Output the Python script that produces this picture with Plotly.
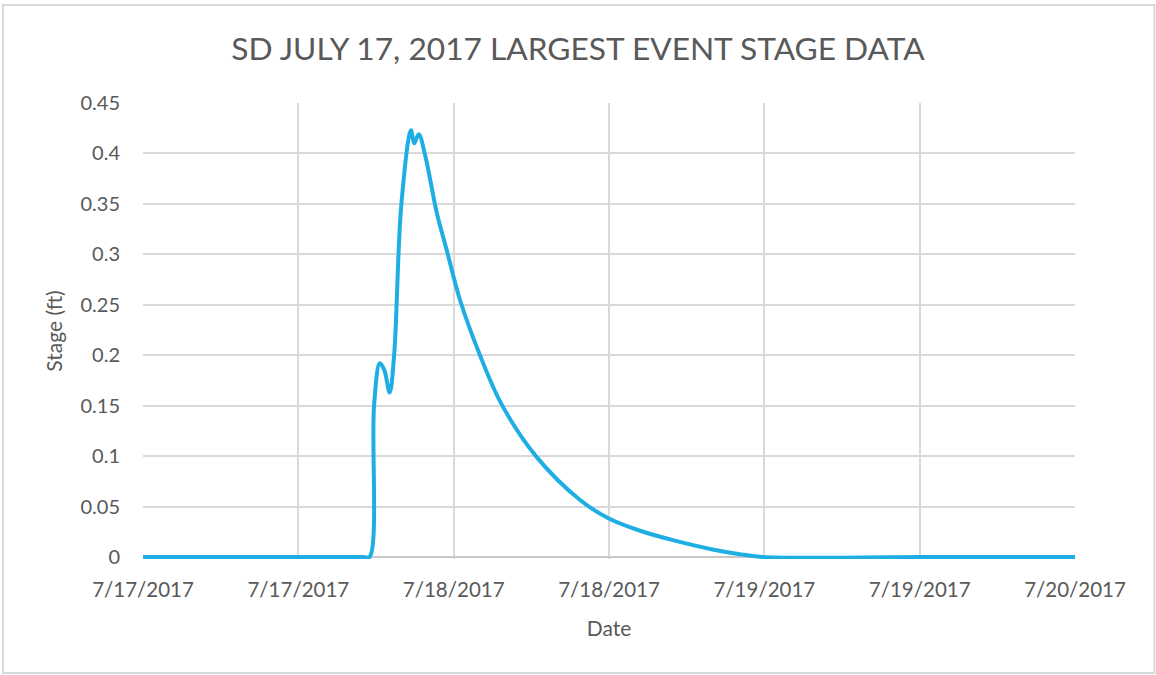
import plotly.graph_objects as go

# hours after 7/17/2017 00:00
horas = [0, 17.0, 17.5, 17.85, 18.3, 18.65, 19.05, 19.4, 19.95, 20.7, 20.95, 21.3, 21.8,
         22.7, 23.46, 24.49, 26.03, 27.71, 30.42, 33.76, 35.95, 38.4, 41.0, 44.0,
         46.0, 47.8, 60.0, 72.0]
stage_ft = [0, 0, 0, 0.15, 0.192, 0.185, 0.163, 0.2, 0.348, 0.423, 0.41, 0.419, 0.398,
            0.341, 0.304, 0.255, 0.2, 0.151, 0.099, 0.0565, 0.0384, 0.026, 0.0165, 0.0075,
            0.003, 0, 0, 0]

datas = [f"2017-07-{17 + int(h // 24):02d} {int(h % 24):02d}:{int(round((h % 1) * 60)):02d}" for h in horas]

cinza = '#595959'
fonte = 'Lato'

fig = go.Figure()
fig.add_trace(go.Scatter(
    x=datas, y=stage_ft, mode='lines',
    line=dict(color='#1EAEE4', width=4, shape='spline', smoothing=1),
    showlegend=False
))

# y range a touch below zero so the thick line at 0 is not clipped
fig.update_layout(
    width=1156, height=675,
    title={'text': 'SD JULY 17, 2017 LARGEST EVENT STAGE DATA', 'x': 0.5, 'xanchor': 'center',
           'y': 0.928, 'yanchor': 'middle',
           'font': {'size': 31.7, 'family': fonte, 'color': cinza}},
    plot_bgcolor='white', paper_bgcolor='white',
    margin=dict(l=143, r=81, t=103, b=116),
    font=dict(family=fonte, color=cinza),
    shapes=[dict(type='rect', xref='paper', yref='paper',
                 x0=-0.1502, x1=1.0853, y0=-0.2500, y1=1.2149,
                 line=dict(color='#d9d9d9', width=2), layer='below')]
)
fig.update_xaxes(
    type='date', range=['2017-07-17 00:00', '2017-07-20 00:00'],
    dtick=12 * 3600 * 1000, tick0='2017-07-17', tickformat='%-m/%-d/%Y',
    showgrid=True, gridcolor='#d9d9d9', gridwidth=1.5, showline=False,
    ticks='', ticklabelstandoff=16, tickfont=dict(size=20.5),
    title=dict(text='Date', font=dict(size=21), standoff=21)
)
fig.update_yaxes(
    range=[-0.002, 0.45], tickvals=[0, 0.05, 0.1, 0.15, 0.2, 0.25, 0.3, 0.35, 0.4, 0.45],
    ticktext=['0', '0.05', '0.1', '0.15', '0.2', '0.25', '0.3', '0.35', '0.4', '0.45'],
    showgrid=True, gridcolor='#d9d9d9', gridwidth=1.5,
    zeroline=True, zerolinecolor='#c8c8c8', zerolinewidth=1.5,
    ticks='', ticklabelstandoff=22, tickfont=dict(size=20),
    title=dict(text='Stage (ft)', font=dict(size=21), standoff=12)
)

fig.write_html("out.html", config={'displayModeBar': False},
               post_script="document.body.style.margin='0';")
